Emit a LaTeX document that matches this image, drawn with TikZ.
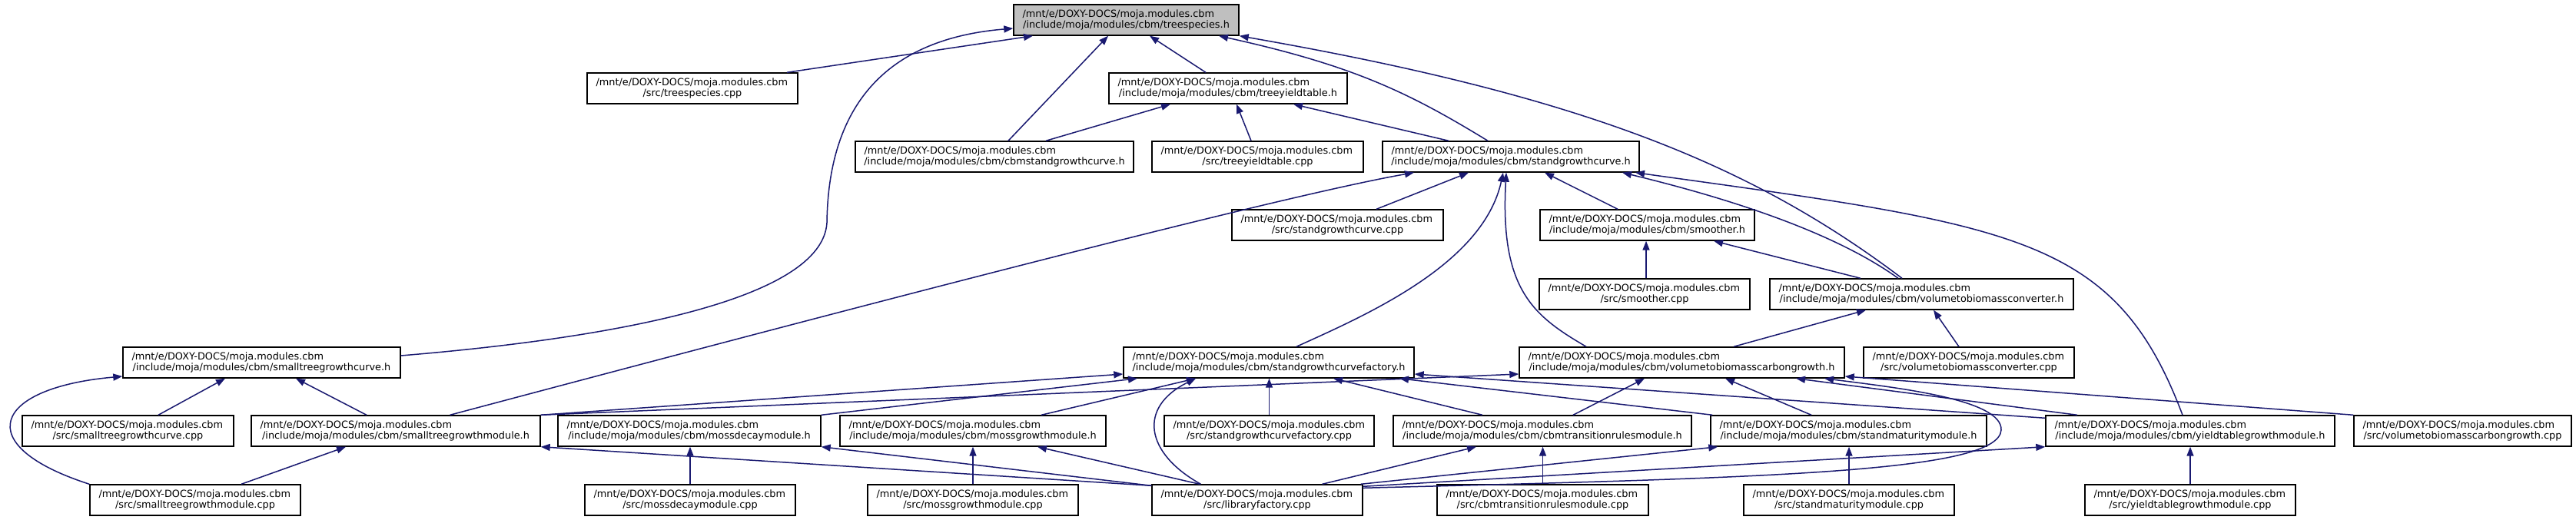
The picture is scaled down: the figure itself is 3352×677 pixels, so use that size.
\documentclass[tikz,border=0pt]{standalone}
\usepackage{fontspec}
\setmainfont{DejaVu Sans}
\usetikzlibrary{arrows.meta}
\definecolor{edgeblue}{RGB}{25,25,112}
\definecolor{rootgrey}{RGB}{191,191,191}
\newcommand\mntpath{/mnt/e/DOXY-DOCS/moja.modules.cbm}
\newcommand\depnode[6][nd]{\node[#1, minimum width=#5pt] (#2) at (#3,#4) {\makebox[\dimexpr#5pt-23pt\relax][l]{\mntpath}\\\makebox[\dimexpr#5pt-23pt\relax][c]{#6}};}
\tikzset{
 nd/.style={draw=black, line width=1.4pt, fill=white, inner sep=0pt, minimum height=40pt, align=center, font=\fontsize{12.85}{14}\selectfont},
 rootnd/.style={nd, fill=rootgrey},
 dep/.style={draw=edgeblue, line width=1.5pt, -{Triangle[length=12pt,width=9pt]}}
}
\begin{document}
\begin{tikzpicture}[x=1pt,y=-1pt]
\fill[white] (0,0) rectangle (3352,677);
\useasboundingbox (0,0) rectangle (3352,677);
% nodes
\depnode[rootnd]{tsh}{1465.5}{26}{293}{/include/moja/modules/cbm/treespecies.h}
\depnode{tscpp}{901}{115}{274}{/src/treespecies.cpp}
\depnode{tyth}{1598}{115}{310}{/include/moja/modules/cbm/treeyieldtable.h}
\depnode{cbmsgch}{1294}{204}{362}{/include/moja/modules/cbm/cbmstandgrowthcurve.h}
\depnode{tytcpp}{1636.5}{204}{275}{/src/treeyieldtable.cpp}
\depnode{sgch}{1966}{204}{334}{/include/moja/modules/cbm/standgrowthcurve.h}
\depnode{sgccpp}{1740.5}{293}{275}{/src/standgrowthcurve.cpp}
\depnode{smh}{2143.5}{293}{279}{/include/moja/modules/cbm/smoother.h}
\depnode{smcpp}{2140}{383}{274}{/src/smoother.cpp}
\depnode{vbch}{2500.5}{383}{395}{/include/moja/modules/cbm/volumetobiomassconverter.h}
\depnode{stgch}{340.5}{472}{361}{/include/moja/modules/cbm/smalltreegrowthcurve.h}
\depnode{sgcfh}{1651}{472}{378}{/include/moja/modules/cbm/standgrowthcurvefactory.h}
\depnode{vbcgh}{2188.5}{472}{423}{/include/moja/modules/cbm/volumetobiomasscarbongrowth.h}
\depnode{vbccpp}{2562}{472}{274}{/src/volumetobiomassconverter.cpp}
\depnode{stgccpp}{166.5}{561}{275}{/src/smalltreegrowthcurve.cpp}
\depnode{stgmh}{515}{561}{376}{/include/moja/modules/cbm/smalltreegrowthmodule.h}
\depnode{mdmh}{897}{561}{342}{/include/moja/modules/cbm/mossdecaymodule.h}
\depnode{mgmh}{1266}{561}{346}{/include/moja/modules/cbm/mossgrowthmodule.h}
\depnode{sgcfcpp}{1651.5}{561}{273}{/src/standgrowthcurvefactory.cpp}
\depnode{ctrmh}{2007}{561}{388}{/include/moja/modules/cbm/cbmtransitionrulesmodule.h}
\depnode{smmh}{2405.5}{561}{359}{/include/moja/modules/cbm/standmaturitymodule.h}
\depnode{ytgmh}{2850}{561}{376}{/include/moja/modules/cbm/yieldtablegrowthmodule.h}
\depnode{vbcgcpp}{3204.5}{561}{283}{/src/volumetobiomasscarbongrowth.cpp}
\depnode{stgmcpp}{254}{651}{274}{/src/smalltreegrowthmodule.cpp}
\depnode{mdmcpp}{898}{651}{274}{/src/mossdecaymodule.cpp}
\depnode{mgmcpp}{1266}{651}{274}{/src/mossgrowthmodule.cpp}
\depnode{lfcpp}{1636}{651}{274}{/src/libraryfactory.cpp}
\depnode{ctrmcpp}{2007.5}{651}{275}{/src/cbmtransitionrulesmodule.cpp}
\depnode{smmcpp}{2406}{651}{274}{/src/standmaturitymodule.cpp}
\depnode{ytgmcpp}{2850}{651}{274}{/src/yieldtablegrowthmodule.cpp}
% edges to treespecies.h
\draw[dep] ([xshift=123pt]tscpp.north) -- ([xshift=-121.5pt]tsh.south);
\draw[dep] ([xshift=18pt]cbmsgch.north) -- ([xshift=-23.5pt]tsh.south);
\draw[dep] ([xshift=-29pt]tyth.north) -- ([xshift=30.5pt]tsh.south);
\draw[dep] ([xshift=-30pt]sgch.north) .. controls (1834,121) and (1762,85.5) .. ([xshift=120.5pt]tsh.south);
\draw[dep] ([xshift=-25.5pt]vbch.north) .. controls (2276,212) and (2055,124) .. (tsh.south east);
\draw[dep] ([yshift=9pt]stgch.east) .. controls (800,440) and (1070,390) .. (1076,290) .. controls (1078,130) and (1160,50) .. ([yshift=-11pt]tsh.west);
% edges to treeyieldtable.h
\draw[dep] ([xshift=67pt]cbmsgch.north) -- ([xshift=-75pt]tyth.south);
\draw[dep] ([xshift=-8.5pt]tytcpp.north) -- ([xshift=11pt]tyth.south);
\draw[dep] ([xshift=-81pt]sgch.north) -- ([xshift=85pt]tyth.south);
% edges to standgrowthcurve.h
\draw[dep] ([xshift=70.5pt]stgmh.north) .. controls (1000,430) and (1650,258) .. ([xshift=-126pt]sgch.south);
\draw[dep] ([xshift=50.5pt]sgccpp.north) -- ([xshift=-55pt]sgch.south);
\draw[dep] ([xshift=36pt]sgcfh.north) .. controls (1778,410) and (1930,344) .. ([xshift=-10pt]sgch.south);
\draw[dep] ([xshift=-124.5pt]vbcgh.north) .. controls (1995,411) and (1951.5,377) .. ([xshift=-6pt]sgch.south);
\draw[dep] ([xshift=-38.5pt]smh.north) -- ([xshift=44pt]sgch.south);
\draw[dep] ([xshift=-30.5pt]vbch.north) .. controls (2389,304) and (2257,260) .. ([xshift=145pt]sgch.south);
\draw[dep] ([xshift=-10pt]ytgmh.north) .. controls (2752,307) and (2623,293.5) .. ([xshift=162pt]sgch.south);
% smoother.h
\draw[dep] ([xshift=2pt]smcpp.north) -- ([xshift=2pt]smcpp.north |- smh.south);
\draw[dep] ([xshift=-79.5pt]vbch.north) -- ([xshift=86.5pt]smh.south);
% volumetobiomassconverter.h
\draw[dep] ([xshift=67.5pt]vbcgh.north) -- ([xshift=-72.5pt]vbch.south);
\draw[dep] ([xshift=-13pt]vbccpp.north) -- ([xshift=15.5pt]vbch.south);
% smalltreegrowthcurve.h
\draw[dep] ([xshift=39.5pt]stgccpp.north) -- ([xshift=-47.5pt]stgch.south);
\draw[dep] ([xshift=-38pt]stgmh.north) -- ([xshift=44.5pt]stgch.south);
\draw[dep] (stgmcpp.north west) .. controls (-40,580) and (-10,505) .. ([yshift=-18pt]stgch.west);
% standgrowthcurvefactory.h
\draw[dep] (stgmh.north east) -- ([yshift=-15pt]sgcfh.west);
\draw[dep] (mdmh.north east) -- ([xshift=-171pt]sgcfh.south);
\draw[dep] ([xshift=89pt]mgmh.north) -- ([xshift=-95pt]sgcfh.south);
\draw[dep] ([xshift=-73.5pt]lfcpp.north) .. controls (1490,590) and (1480,530) .. ([xshift=-95pt]sgcfh.south);
\draw[dep] (sgcfcpp.north) -- (sgcfcpp.north |- sgcfh.south);
\draw[dep] ([xshift=-78pt]ctrmh.north) -- ([xshift=84pt]sgcfh.south);
\draw[dep] ([xshift=3pt]smmh.north west) -- ([xshift=170pt]sgcfh.south);
\draw[dep] ([yshift=-4pt]ytgmh.north west) -- ([yshift=-15pt]sgcfh.east);
% volumetobiomasscarbongrowth.h
\draw[dep] (stgmh.north east) -- ([yshift=-15pt]vbcgh.west);
\draw[dep] ([xshift=40pt]ctrmh.north) -- ([xshift=-48.5pt]vbcgh.south);
\draw[dep] ([xshift=-48.5pt]smmh.north) -- ([xshift=56.5pt]vbcgh.south);
\draw[dep] ([xshift=-147pt]ytgmh.north) -- ([xshift=148.5pt]vbcgh.south);
\draw[dep] ([yshift=-5pt]lfcpp.north east) .. controls (2300,622) and (2600,615) .. (2604,560) .. controls (2606,520) and (2470,505) .. ([xshift=185.5pt]vbcgh.south);
\draw[dep] (vbcgcpp.north west) -- ([yshift=-18pt]vbcgh.east);
% modules
\draw[dep] ([xshift=60pt]stgmcpp.north) -- ([xshift=-65pt]stgmh.south);
\draw[dep] ([yshift=-2pt]lfcpp.north west) -- (stgmh.south east);
\draw[dep] ([yshift=-2pt]lfcpp.north west) -- (mdmh.south east);
\draw[dep] (mdmcpp.north) -- (mdmcpp.north |- mdmh.south);
\draw[dep] (mgmcpp.north) -- (mgmcpp.north |- mgmh.south);
\draw[dep] ([xshift=-75pt]lfcpp.north) -- ([xshift=84pt]mgmh.south);
\draw[dep] ([xshift=84.5pt]lfcpp.north) -- ([xshift=-86pt]ctrmh.south);
\draw[dep] (ctrmcpp.north) -- (ctrmcpp.north |- ctrmh.south);
\draw[dep] ([xshift=-3pt]lfcpp.north east) -- ([xshift=10pt]smmh.south west);
\draw[dep] (smmcpp.north) -- (smmcpp.north |- smmh.south);
\draw[dep] ([yshift=-3pt]lfcpp.north east) -- (ytgmh.south west);
\draw[dep] (ytgmcpp.north) -- (ytgmcpp.north |- ytgmh.south);
\end{tikzpicture}
\end{document}
